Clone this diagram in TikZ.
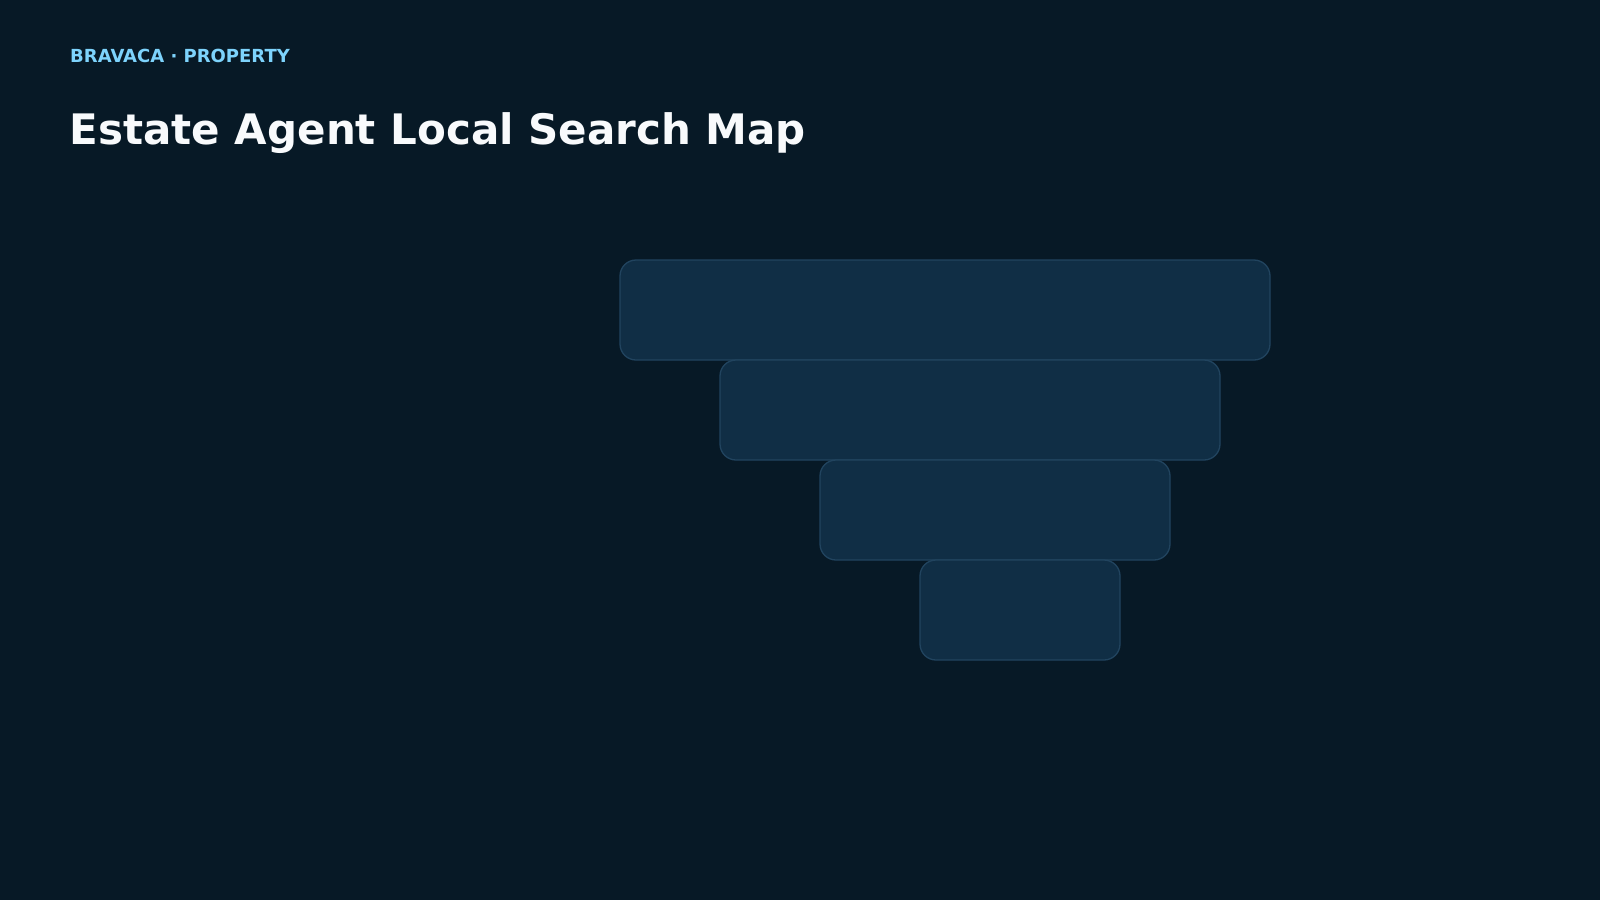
\documentclass[tikz,border=0pt]{standalone}
\usepackage{fontspec}
\setmainfont{DejaVu Sans}
\definecolor{bgc}{HTML}{071926}
\definecolor{boxfill}{HTML}{102E45}
\definecolor{boxline}{HTML}{21445F}
\definecolor{kicker}{HTML}{7DD3FC}
\definecolor{titlec}{HTML}{F8FAFC}
\begin{document}
\begin{tikzpicture}[x=1pt,y=-1pt,
  stage/.style={draw=boxline,fill=boxfill,line width=1.3pt,rounded corners=16pt},
  kickertext/.style={anchor=base west,inner sep=0pt,text=kicker,font=\fontsize{18}{20}\selectfont\bfseries},
  titletext/.style={anchor=base west,inner sep=0pt,text=titlec,font=\fontsize{42}{48}\selectfont\bfseries}]
\fill[bgc] (0,0) rectangle (1600,900);
\useasboundingbox (0,0) rectangle (1600,900);
\node[kickertext] (kick) at (70,62) {BRAVACA · PROPERTY};
\node[titletext] (title) at (69.5,144) {Estate Agent Local Search Map};
\draw[stage] (620,260) rectangle (1270,360);
\draw[stage] (720,360) rectangle (1220,460);
\draw[stage] (820,460) rectangle (1170,560);
\draw[stage] (920,560) rectangle (1120,660);
\end{tikzpicture}
\end{document}
